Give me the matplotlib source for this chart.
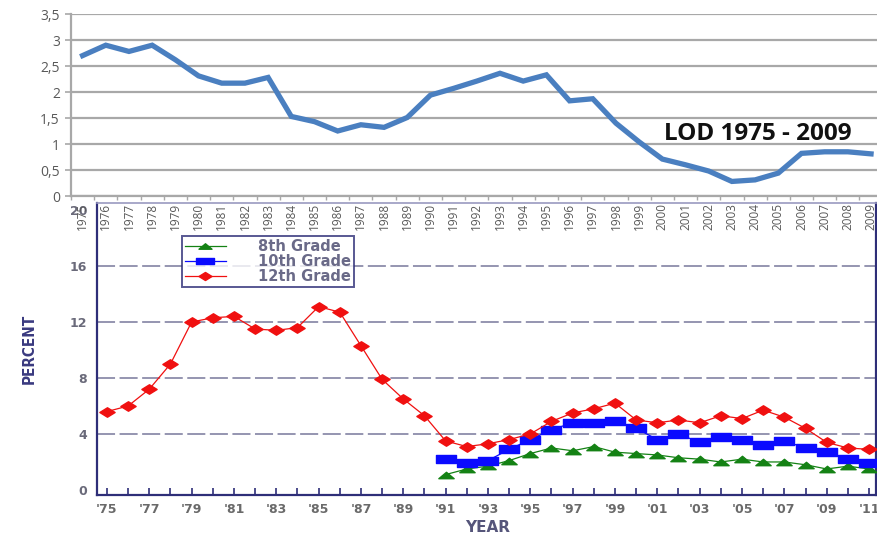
import matplotlib
matplotlib.use("Agg")
import matplotlib.pyplot as plt
from matplotlib.path import Path
from matplotlib.ticker import MultipleLocator, FixedLocator, FuncFormatter

# ---------------- data ----------------
lod_years = list(range(1975, 2010))
lod_values = [2.70, 2.90, 2.78, 2.90, 2.62, 2.31, 2.17, 2.17, 2.28, 1.53,
              1.43, 1.25, 1.37, 1.32, 1.51, 1.94, 2.07, 2.21, 2.36, 2.21,
              2.33, 1.83, 1.87, 1.40, 1.04, 0.71, 0.60, 0.48, 0.28, 0.31,
              0.44, 0.82, 0.85, 0.85, 0.81]
lod_label = "LOD 1975 - 2009"

g12_years = list(range(1975, 2012))
g12_values = [5.6, 6.0, 7.2, 9.0, 12.0, 12.3, 12.4, 11.5, 11.4, 11.6,
              13.1, 12.7, 10.3, 7.9, 6.5, 5.3, 3.5, 3.1, 3.3, 3.6,
              4.0, 4.9, 5.5, 5.8, 6.2, 5.0, 4.8, 5.0, 4.8, 5.3,
              5.1, 5.7, 5.2, 4.4, 3.4, 3.0, 2.9]
g10_years = list(range(1991, 2012))
g10_values = [2.2, 1.9, 2.1, 2.9, 3.6, 4.3, 4.8, 4.8, 4.9, 4.4, 3.6,
              4.0, 3.4, 3.8, 3.6, 3.2, 3.5, 3.0, 2.7, 2.2, 1.9]
g8_years = list(range(1991, 2012))
g8_values = [1.1, 1.5, 1.7, 2.1, 2.6, 3.0, 2.8, 3.1, 2.7, 2.6, 2.5,
             2.3, 2.2, 2.0, 2.2, 2.0, 2.0, 1.8, 1.5, 1.7, 1.5]
series_labels = ["8th Grade", "10th Grade", "12th Grade"]
pct_ticks = [0, 4, 8, 12, 16, 20]
year_ticks = list(range(1975, 2012, 2))

# ---------------- figure ----------------
fig = plt.figure(figsize=(8.78, 5.36), dpi=100)
fig.patch.set_facecolor("white")

# markers
diamond = Path([(-1, 0), (0, 0.62), (1, 0), (0, -0.62), (-1, 0)],
               [Path.MOVETO, Path.LINETO, Path.LINETO, Path.LINETO, Path.CLOSEPOLY])
rect = Path([(-1, -0.36), (1, -0.36), (1, 0.36), (-1, 0.36), (-1, -0.36)],
            [Path.MOVETO, Path.LINETO, Path.LINETO, Path.LINETO, Path.CLOSEPOLY])
tri = Path([(-1, -0.42), (1, -0.42), (0, 0.42), (-1, -0.42)],
           [Path.MOVETO, Path.LINETO, Path.LINETO, Path.CLOSEPOLY])

# ---- bottom chart ----
axb = fig.add_axes([97 / 878, 1 - 495 / 536, 779 / 878, 292 / 536])
axb.set_xlim(1974.53, 2011.33)
axb.set_ylim(-0.36, 20.5)
for y in [4, 8, 12, 16]:
    axb.axhline(y, color="#8c8caa", lw=1.3, dashes=(10, 2.5), zorder=1)

red = "#f01010"
blue = "#0a0aff"
green = "#148214"
l8, = axb.plot(g8_years, g8_values, color=green, lw=0.9, marker=tri, ms=11,
               mfc=green, mec=green, zorder=3, label=series_labels[0])
l10, = axb.plot(g10_years, g10_values, color=blue, lw=0.9, marker=rect, ms=15,
                mfc=blue, mec=blue, zorder=3, label=series_labels[1])
l12, = axb.plot(g12_years, g12_values, color=red, lw=0.9, marker=diamond, ms=11,
                mfc=red, mec=red, zorder=4, label=series_labels[2])

navy = "#2e2e78"
for s in ["left", "bottom", "right"]:
    axb.spines[s].set_color(navy)
    axb.spines[s].set_linewidth(1.6)
axb.spines["top"].set_color("#9a9ac0")
axb.spines["top"].set_linewidth(1.2)

axb.yaxis.set_major_locator(FixedLocator(pct_ticks))
axb.tick_params(axis="y", length=0, pad=7, labelsize=9, labelcolor="#6a6a7a")
axb.xaxis.set_major_locator(FixedLocator(year_ticks))
axb.xaxis.set_minor_locator(MultipleLocator(1))
axb.xaxis.set_major_formatter(FuncFormatter(lambda v, p: "'%02d" % (int(round(v)) % 100)))
axb.tick_params(axis="x", which="both", direction="in", length=5, width=1.2,
                color=navy, pad=6, labelsize=9, labelcolor="#6a6a6a")
for lab in axb.get_xticklabels() + axb.get_yticklabels():
    lab.set_fontweight("bold")
    lab.set_family("DejaVu Sans")

axb.set_ylabel("PERCENT", fontsize=11, color="#3a3a80", fontweight="bold",
               fontstretch="condensed", labelpad=24)
axb.set_xlabel("YEAR", fontsize=11, color="#55557a", fontweight="bold")
axb.xaxis.set_label_coords((488 - 97) / 779, -(527 - 495) / 292)
axb.xaxis.label.set_verticalalignment("center")

leg = axb.legend(handles=[l8, l10, l12], loc="upper left",
                 bbox_to_anchor=((182 - 97) / 779, (495 - 236) / 292),
                 frameon=True, fancybox=False, fontsize=10.5, labelspacing=0.0,
                 borderpad=0.2, handlelength=2.8, handletextpad=2.2,
                 borderaxespad=0, markerscale=0.85)
leg.get_frame().set_edgecolor(navy)
leg.get_frame().set_linewidth(1.4)
for t in leg.get_texts():
    t.set_color("#6a6a88")
    t.set_fontweight("bold")

# ---- top chart ----
axt = fig.add_axes([71 / 878, 1 - 196 / 536, 807 / 878, 182 / 536], zorder=5)
axt.patch.set_alpha(0)
axt.set_xlim(1974.5, 2009.3)
axt.set_ylim(0, 3.5)
axt.plot(lod_years, lod_values, color="#4a7fc0", lw=3.8, solid_joinstyle="miter",
         zorder=3)
axt.yaxis.set_major_locator(MultipleLocator(0.5))
axt.yaxis.set_major_formatter(FuncFormatter(
    lambda v, p: ("%g" % v).replace(".", ",")))
axt.grid(axis="y", color="#a8a8a8", lw=1.6)
axt.set_axisbelow(True)
for s in ["top", "right"]:
    axt.spines[s].set_visible(False)
for s in ["left", "bottom"]:
    axt.spines[s].set_color("#a8a8a8")
    axt.spines[s].set_linewidth(1.6)
axt.tick_params(axis="y", direction="out", length=4, width=1.2, color="#a8a8a8",
                pad=4, labelsize=10, labelcolor="#595959")
axt.xaxis.set_major_locator(FixedLocator(lod_years))
axt.xaxis.set_minor_locator(FixedLocator([y - 0.5 for y in lod_years] + [2009.5]))
axt.tick_params(axis="x", which="major", length=0, pad=5, labelsize=8.5,
                labelcolor="#595959", labelrotation=90)
axt.tick_params(axis="x", which="minor", direction="out", length=3, width=1.0,
                color="#a8a8a8")
for lab in axt.get_xticklabels() + axt.get_yticklabels():
    lab.set_family("Open Sans")
for lab in axt.get_xticklabels():
    lab.set_verticalalignment("top")

axt.text((758 - 71) / 807, (196 - 134) / 182, lod_label, transform=axt.transAxes,
         ha="center", va="center", fontsize=17.5, fontweight="bold",
         family="Open Sans", color="#111111", zorder=6)

fig.savefig("out.png", dpi=100)
